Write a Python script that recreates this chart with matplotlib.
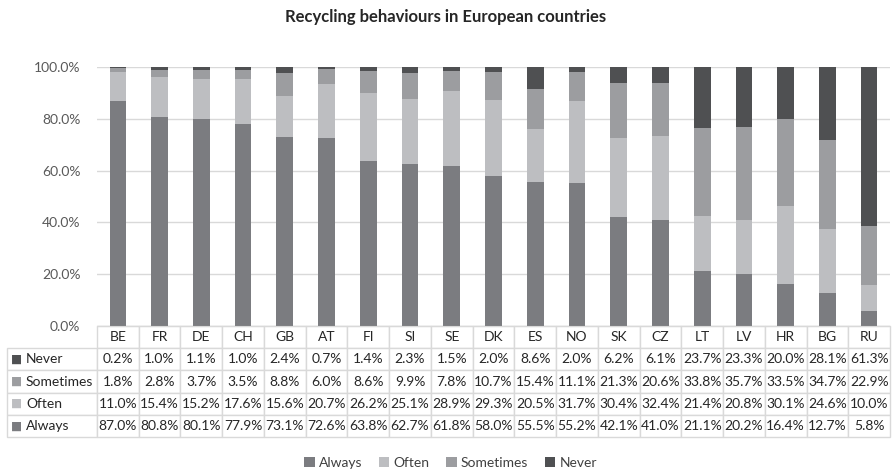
import numpy as np
import matplotlib
matplotlib.use("Agg")
import matplotlib.pyplot as plt
from matplotlib.patches import Patch
from matplotlib.table import Table

plt.rcParams['font.family'] = ['Lato', 'DejaVu Sans']

# --- data (share of respondents, %) ---
countries = ["BE", "FR", "DE", "CH", "GB", "AT", "FI", "SI", "SE", "DK",
             "ES", "NO", "SK", "CZ", "LT", "LV", "HR", "BG", "RU"]
always = [87.0, 80.8, 80.1, 77.9, 73.1, 72.6, 63.8, 62.7, 61.8, 58.0,
          55.5, 55.2, 42.1, 41.0, 21.1, 20.2, 16.4, 12.7, 5.8]
often = [11.0, 15.4, 15.2, 17.6, 15.6, 20.7, 26.2, 25.1, 28.9, 29.3,
         20.5, 31.7, 30.4, 32.4, 21.4, 20.8, 30.1, 24.6, 10.0]
sometimes = [1.8, 2.8, 3.7, 3.5, 8.8, 6.0, 8.6, 9.9, 7.8, 10.7,
             15.4, 11.1, 21.3, 20.6, 33.8, 35.7, 33.5, 34.7, 22.9]
never = [0.2, 1.0, 1.1, 1.0, 2.4, 0.7, 1.4, 2.3, 1.5, 2.0,
         8.6, 2.0, 6.2, 6.1, 23.7, 23.3, 20.0, 28.1, 61.3]

series = [("Always", always, "#7b7c80"),
          ("Often", often, "#bdbec1"),
          ("Sometimes", sometimes, "#9c9da0"),
          ("Never", never, "#4f5052")]

W, H = 892, 470
fig = plt.figure(figsize=(W / 100, H / 100), dpi=100)
ax_l, ax_r, ax_t, ax_b = 97, 890, 67, 326
ax = fig.add_axes([ax_l / W, 1 - ax_b / H, (ax_r - ax_l) / W, (ax_b - ax_t) / H])

x = np.arange(len(countries))
bottom = np.zeros(len(countries))
for name, vals, col in series:
    ax.bar(x, vals, width=0.4, bottom=bottom, color=col, zorder=2)
    bottom += np.array(vals)

ax.set_xlim(-0.5, len(countries) - 0.5)
ax.set_ylim(0, 100)
ax.set_yticks(np.arange(0, 101, 20))
ax.set_yticklabels([f"{v:.1f}%" for v in np.arange(0, 101, 20)])
ax.tick_params(axis='y', length=0, labelsize=10, labelcolor='#595959', pad=12)
ax.set_xticks([])
ax.grid(axis='y', color='#d9d9d9', linewidth=1, zorder=0)
for s in ['top', 'right', 'left']:
    ax.spines[s].set_visible(False)
ax.spines['bottom'].set_color('#d9d9d9')

# --- data table under the chart ---
rows = ["Never", "Sometimes", "Often", "Always"]
row_vals = [never, sometimes, often, always]
ax_w = ax_r - ax_l
label_w = (ax_l - 7) / ax_w
tab_h = (437 - ax_b) / (ax_b - ax_t)
row_h = tab_h / 5
col_w = 1 / len(countries)

# bbox covers the data columns only; the label column sits to its left
tab = Table(ax, bbox=[0, -tab_h, 1, tab_h])
for j, c in enumerate(countries):
    tab.add_cell(0, j, width=col_w, height=row_h, text=c, loc='center')
for i, (r, vals) in enumerate(zip(rows, row_vals)):
    tab.add_cell(i + 1, -1, width=label_w, height=row_h, text=r, loc='left')
    for j, v in enumerate(vals):
        tab.add_cell(i + 1, j, width=col_w, height=row_h,
                     text=f"{v:.1f}%", loc='center')
tab.auto_set_font_size(False)
tab.set_fontsize(10)
for (r, c), cell in tab.get_celld().items():
    cell.set_edgecolor('#d9d9d9')
    cell.set_linewidth(1)
    cell.get_text().set_color('#262626')
    cell.PAD = 0.21 if c == -1 else 0.02
ax.add_table(tab)

colors = {n: c for n, _, c in series}
for i, r in enumerate(rows):
    yc = -row_h * (i + 1.5)
    ax.text(-label_w + 4 / ax_w, yc, "■", color=colors[r], fontsize=8.5,
            ha='left', va='center', transform=ax.transAxes,
            family=['DejaVu Sans'])

fig.text(0.5, 1 - 17 / H, "Recycling behaviours in European countries",
         ha='center', va='center', fontsize=12, fontweight='bold',
         color='#262626')

handles = [Patch(facecolor=c, label=n) for n, _, c in series]
fig.legend(handles=handles, loc='center', bbox_to_anchor=(0.505, 1 - 463 / H),
           ncol=4, frameon=False, fontsize=10, handlelength=0.75,
           handleheight=0.75, handletextpad=0.3, columnspacing=1.2,
           labelcolor='#404040')

fig.savefig("out.png", dpi=100)
